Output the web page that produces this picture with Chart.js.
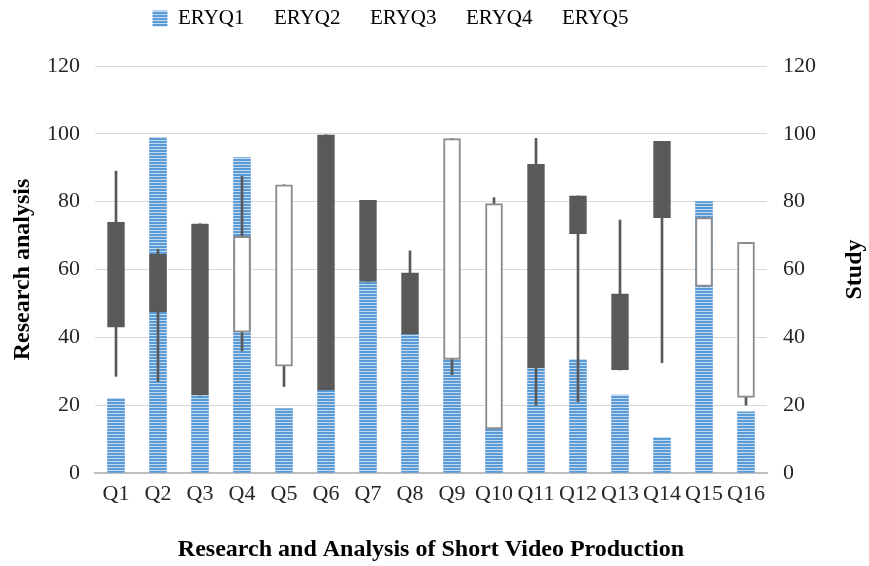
<!DOCTYPE html>
<html lang="en">

<head>
    <meta charset="UTF-8">
    <meta name="viewport" content="width=device-width, initial-scale=1.0">
    <script src="https://cdn.jsdelivr.net/npm/chart.js"></script>
    <title>Research and Analysis of Short Video Production</title>
    <style>
        html,
        body {
            margin: 0;
            padding: 0;
            background: #ffffff;
        }

        .graph {
            width: 869px;
            height: 566px;
        }
    </style>
</head>

<body>
    <div class="graph">
        <canvas id="myChartCanvas"></canvas>
    </div>

    <script>
        // dados
        const categorias = ['Q1', 'Q2', 'Q3', 'Q4', 'Q5', 'Q6', 'Q7', 'Q8', 'Q9', 'Q10', 'Q11', 'Q12', 'Q13', 'Q14', 'Q15', 'Q16'];
        const nomesSeries = ['ERYQ1', 'ERYQ2', 'ERYQ3', 'ERYQ4', 'ERYQ5'];

        const eryq1 = [22, 99, 23, 93, 19, 24.5, 56.5, 41, 33.5, 13, 31, 33.5, 23, 10.5, 80, 18];      // barras (volume)
        const eryq2 = [74, 64.5, 73.5, 41.5, 31.5, 99.7, 80.4, 59, 33.5, 13, 91, 81.7, 52.8, 97.8, 55, 22.3]; // abertura
        const eryq3 = [89, 66, 73.5, 87.5, 85, 99.7, 80.4, 65.5, 98.6, 81.2, 98.7, 81.7, 74.6, 97.8, 75.3, 68]; // maxima
        const eryq4 = [28.5, 27, 23, 36, 25.5, 24.5, 56.5, 41, 29, 13, 20, 21, 30.4, 32.5, 55, 20];     // minima
        const eryq5 = [43, 47.5, 23, 69.8, 85, 24.5, 56.5, 41, 98.6, 79.4, 31, 70.5, 30.4, 75.3, 75.3, 68]; // fechamento

        const ticksY = [0, 20, 40, 60, 80, 100, 120];

        const fonte = "'Liberation Serif', 'Times New Roman', serif";
        const cinzaEscuro = '#595959';

        // preenchimento listrado das barras azuis
        function criarListrado() {
            const c = document.createElement('canvas');
            c.width = 4;
            c.height = 3;
            const g = c.getContext('2d');
            g.fillStyle = '#5b9bd5';
            g.fillRect(0, 0, 4, 3);
            g.fillStyle = '#c3dbf1';
            g.fillRect(0, 2, 4, 1);
            return g.createPattern(c, 'repeat');
        }
        const listrado = criarListrado();

        const corpos = categorias.map((_, i) => [eryq2[i], eryq5[i]]);
        const pavios = categorias.map((_, i) => [eryq4[i], eryq3[i]]);
        const corCorpo = categorias.map((_, i) => eryq2[i] > eryq5[i] ? cinzaEscuro : '#ffffff');
        const bordaCorpo = categorias.map((_, i) => eryq2[i] > eryq5[i] ? cinzaEscuro : '#8c8c8c');

        // titulo do eixo direito, lido de baixo para cima
        const tituloDireita = {
            id: 'tituloDireita',
            afterDraw(chart) {
                const ctx = chart.ctx;
                const area = chart.chartArea;
                ctx.save();
                ctx.translate(855, (area.top + area.bottom) / 2);
                ctx.rotate(-Math.PI / 2);
                ctx.font = 'bold 24px ' + fonte;
                ctx.fillStyle = '#000000';
                ctx.textAlign = 'center';
                ctx.textBaseline = 'middle';
                ctx.fillText('Study', 0, 0);
                ctx.restore();
            }
        };

        // legenda um pouco mais para cima e para a esquerda
        const ajusteLegenda = {
            id: 'ajusteLegenda',
            afterLayout(chart) {
                const lg = chart.legend;
                lg.top -= 27;
                lg.bottom -= 27;
                lg.left -= 44;
                lg.right -= 44;
            }
        };

        const config = {
            type: 'bar',
            data: {
                labels: categorias,
                datasets: [{
                    label: 'corpo',
                    data: corpos,
                    backgroundColor: corCorpo,
                    borderColor: bordaCorpo,
                    borderWidth: 2,
                    borderSkipped: false,
                    barThickness: 17,
                    grouped: false,
                    order: 1
                },
                {
                    label: 'pavio',
                    data: pavios,
                    backgroundColor: cinzaEscuro,
                    barThickness: 2,
                    grouped: false,
                    order: 2
                },
                {
                    label: nomesSeries[0],
                    data: eryq1,
                    backgroundColor: listrado,
                    barThickness: 17,
                    grouped: false,
                    order: 3
                }]
            },
            options: {
                responsive: true,
                maintainAspectRatio: false,
                animation: false,
                layout: {
                    padding: { top: 31 }
                },
                plugins: {
                    tooltip: { enabled: false },
                    legend: {
                        position: 'top',
                        labels: {
                            boxWidth: 15,
                            boxHeight: 16,
                            padding: 4,
                            color: '#262626',
                            font: { family: fonte, size: 21 },
                            generateLabels: function () {
                                return nomesSeries.map((nome, i) => ({
                                    text: nome,
                                    fillStyle: i == 0 ? listrado : 'rgba(0,0,0,0)',
                                    strokeStyle: 'rgba(0,0,0,0)',
                                    lineWidth: 0,
                                    hidden: false,
                                    datasetIndex: i
                                }));
                            }
                        }
                    }
                },
                scales: {
                    x: {
                        offset: true,
                        grid: { display: false },
                        border: { display: true, color: '#bfbfbf', width: 2 },
                        ticks: {
                            autoSkip: false,
                            maxRotation: 0,
                            padding: 0,
                            color: '#262626',
                            font: { family: fonte, size: 22 }
                        },
                        title: {
                            display: true,
                            text: 'Research and Analysis of Short Video Production',
                            color: '#000000',
                            font: { family: fonte, size: 24, weight: 'bold' },
                            padding: { top: 0, bottom: 2 }
                        },
                        afterFit(scale) { scale.height = 93; }
                    },
                    y: {
                        position: 'left',
                        min: 0,
                        max: 120,
                        afterBuildTicks(scale) { scale.ticks = ticksY.map(v => ({ value: v })); },
                        grid: { color: '#d9d9d9', drawTicks: false },
                        border: { display: false },
                        ticks: {
                            padding: 15,
                            color: '#262626',
                            font: { family: fonte, size: 22 }
                        },
                        title: {
                            display: true,
                            text: 'Research analysis',
                            color: '#000000',
                            font: { family: fonte, size: 24, weight: 'bold' },
                            padding: { top: 8, bottom: 0 }
                        },
                        afterFit(scale) { scale.width = 95; }
                    },
                    y2: {
                        position: 'right',
                        min: 0,
                        max: 120,
                        afterBuildTicks(scale) { scale.ticks = ticksY.map(v => ({ value: v })); },
                        grid: { display: false, drawTicks: false },
                        border: { display: false },
                        ticks: {
                            padding: 16,
                            color: '#262626',
                            font: { family: fonte, size: 22 }
                        },
                        afterFit(scale) { scale.width = 102; }
                    }
                }
            },
            plugins: [tituloDireita, ajusteLegenda]
        };

        let myChart = new Chart(
            document.getElementById('myChartCanvas'),
            config
        );
    </script>
</body>

</html>
